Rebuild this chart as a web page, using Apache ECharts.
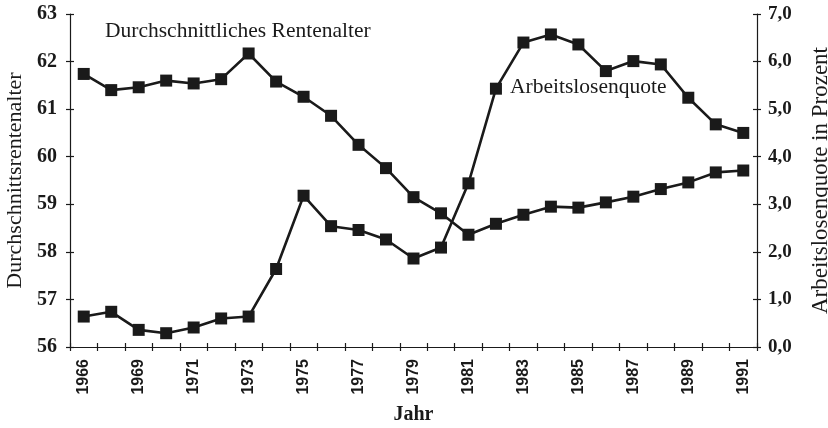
<!DOCTYPE html>
<html>
<head>
<meta charset="utf-8">
<script src="https://cdn.jsdelivr.net/npm/echarts@6/dist/echarts.min.js"></script>
<style>html,body{margin:0;padding:0;background:#fff}#c{width:828px;height:428px}</style>
</head>
<body>
<div id="c"></div>
<script>
const years = ['1966','1968','1969','1970','1971','1972','1973','1974','1975','1976','1977','1978','1979','1980','1981','1982','1983','1984','1985','1986','1987','1988','1989','1990','1991'];
const rentenalter = [61.74, 61.40, 61.46, 61.60, 61.54, 61.63, 62.17, 61.58, 61.26, 60.86, 60.25, 59.76, 59.15, 58.81, 58.36, 58.59, 58.78, 58.95, 58.93, 59.04, 59.16, 59.32, 59.46, 59.67, 59.71];
const arbeitslosenquote = [0.64, 0.74, 0.36, 0.29, 0.41, 0.60, 0.64, 1.64, 3.18, 2.54, 2.46, 2.26, 1.86, 2.09, 3.44, 5.43, 6.40, 6.57, 6.36, 5.80, 6.01, 5.94, 5.24, 4.68, 4.50];
const leftTicks = [56, 63, 1];
const rightTicks = [0, 7, 1];
const labelRenten = 'Durchschnittliches Rentenalter';
const labelQuote = 'Arbeitslosenquote';

const ink = '#1a1a1a';
const serif = '"Liberation Serif", "Times New Roman", serif';
const sans = '"Liberation Sans", Arial, sans-serif';

const chart = echarts.init(document.getElementById('c'), null, {renderer: 'canvas'});
const lineStyle = {color: ink, width: 1.2};
const tickStyle = {color: ink, width: 1.2};

chart.setOption({
  animation: false,
  backgroundColor: '#fff',
  grid: {left: 70, right: 71, top: 14, bottom: 81, containLabel: false, outerBoundsMode: 'none'},
  xAxis: [{
    type: 'category', data: years, boundaryGap: true, position: 'bottom',
    axisLine: {show: true, lineStyle: lineStyle},
    axisTick: {show: true, interval: 0, length: 4, lineStyle: tickStyle},
    axisLabel: {interval: 1, rotate: 90, margin: 12, color: ink, fontFamily: sans, fontWeight: 'bold', fontSize: 16},
    splitLine: {show: false},
    name: 'Jahr', nameLocation: 'middle', nameGap: 58,
    nameTextStyle: {fontFamily: serif, fontWeight: 'bold', fontSize: 20, color: ink}
  }, {
    type: 'category', data: years, boundaryGap: true, position: 'bottom',
    axisLine: {show: false},
    axisTick: {show: true, inside: true, interval: 0, length: 4, lineStyle: tickStyle},
    axisLabel: {show: false}, splitLine: {show: false}
  }],
  yAxis: [{
    type: 'value', min: leftTicks[0], max: leftTicks[1], interval: leftTicks[2], position: 'left',
    axisLine: {show: true, lineStyle: lineStyle},
    axisTick: {show: true, length: 4, lineStyle: tickStyle},
    axisLabel: {margin: 13, color: ink, fontFamily: serif, fontWeight: 'bold', fontSize: 20},
    splitLine: {show: false},
    name: 'Durchschnittsrentenalter', nameLocation: 'middle', nameGap: 44, nameRotate: 90,
    nameTextStyle: {fontFamily: serif, fontSize: 22, color: ink}
  }, {
    type: 'value', min: rightTicks[0], max: rightTicks[1], interval: rightTicks[2], position: 'right',
    axisLine: {show: true, lineStyle: lineStyle},
    axisTick: {show: true, length: 4, lineStyle: tickStyle},
    axisLabel: {margin: 11, color: ink, fontFamily: serif, fontWeight: 'bold', fontSize: 19,
      formatter: v => v.toFixed(1).replace('.', ',')},
    splitLine: {show: false},
    name: 'Arbeitslosenquote in Prozent', nameLocation: 'middle', nameGap: 52, nameRotate: 90,
    nameTextStyle: {fontFamily: serif, fontSize: 23, color: ink}
  }, {
    type: 'value', min: leftTicks[0], max: leftTicks[1], interval: leftTicks[2], position: 'left',
    axisLine: {show: false}, axisTick: {show: true, inside: true, length: 4, lineStyle: tickStyle},
    axisLabel: {show: false}, splitLine: {show: false}
  }, {
    type: 'value', min: rightTicks[0], max: rightTicks[1], interval: rightTicks[2], position: 'right',
    axisLine: {show: false}, axisTick: {show: true, inside: true, length: 4, lineStyle: tickStyle},
    axisLabel: {show: false}, splitLine: {show: false}
  }],
  series: [{
    name: labelRenten, type: 'line', xAxisIndex: 0, yAxisIndex: 0, data: rentenalter,
    symbol: 'rect', symbolSize: 12, showSymbol: true,
    lineStyle: {color: ink, width: 2.6}, itemStyle: {color: ink}
  }, {
    name: labelQuote, type: 'line', xAxisIndex: 0, yAxisIndex: 1, data: arbeitslosenquote,
    symbol: 'rect', symbolSize: 12, showSymbol: true,
    lineStyle: {color: ink, width: 2.6}, itemStyle: {color: ink}
  }],
  graphic: [{
    type: 'text', left: 105, top: 20,
    style: {text: labelRenten, fontFamily: serif, fontSize: 21.5, fill: ink}
  }, {
    type: 'text', left: 510, top: 76,
    style: {text: labelQuote, fontFamily: serif, fontSize: 21.5, fill: ink}
  }]
});
</script>
</body>
</html>
